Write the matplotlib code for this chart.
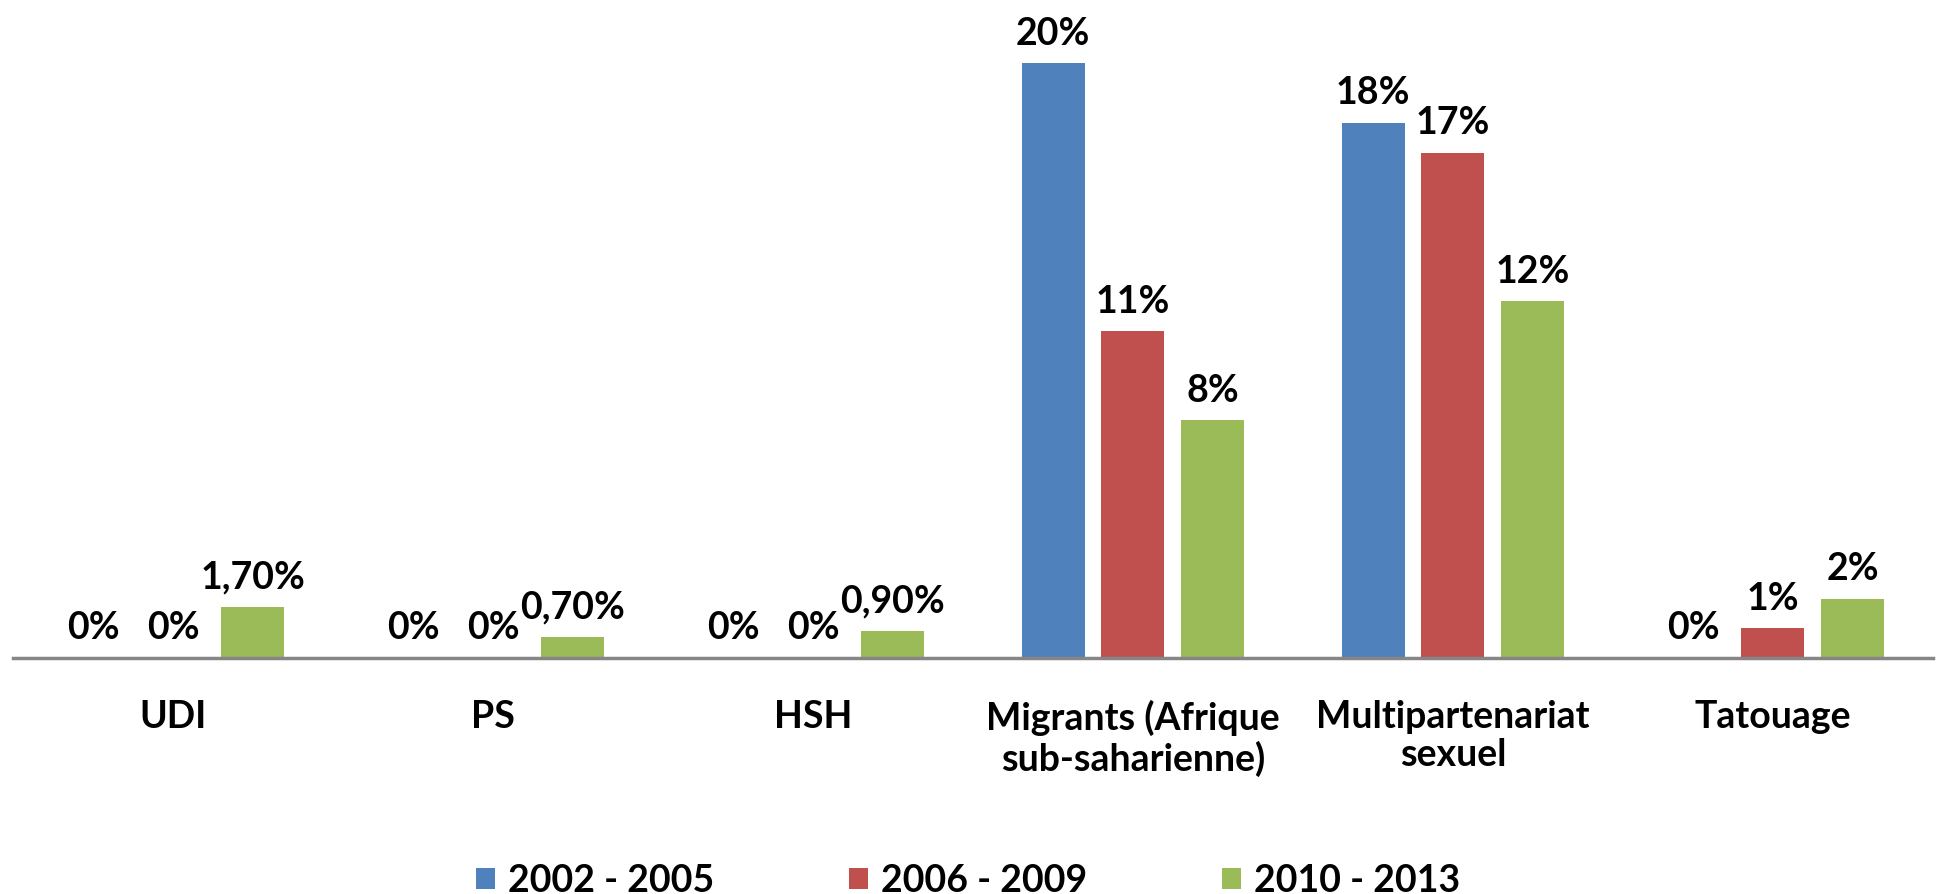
import matplotlib
matplotlib.use("Agg")
import matplotlib.pyplot as plt
import numpy as np

categories = ["UDI", "PS", "HSH", "Migrants (Afrique\nsub-saharienne)",
              "Multipartenariat\nsexuel", "Tatouage"]
series = ["2002 - 2005", "2006 - 2009", "2010 - 2013"]
values = [
    [0, 0, 0, 20, 18, 0],
    [0, 0, 0, 11, 17, 1],
    [1.7, 0.7, 0.9, 8, 12, 2],
]
labels = [
    ["0%", "0%", "0%", "20%", "18%", "0%"],
    ["0%", "0%", "0%", "11%", "17%", "1%"],
    ["1,70%", "0,70%", "0,90%", "8%", "12%", "2%"],
]
colors = ["#4F81BD", "#C0504D", "#9BBB59"]

plt.rcParams["font.family"] = ["Lato", "DejaVu Sans"]
plt.rcParams["font.weight"] = "bold"

fig = plt.figure(figsize=(19.36, 8.94), dpi=100)
ax = fig.add_axes([0.0067, 0.264, 0.9917, 0.7315])

x = np.arange(len(categories))
width = 0.197
step = 0.249

for i, (name, vals, labs, col) in enumerate(zip(series, values, labels, colors)):
    pos = x + (i - 1) * step
    ax.bar(pos, vals, width, color=col, label=name, zorder=2)
    for px, v, lab in zip(pos, vals, labs):
        ax.annotate(lab, (px, v), xytext=(0, 9), textcoords="offset points",
                    ha="center", va="bottom", fontsize=27, fontweight="bold")

ax.set_xlim(-0.5, len(categories) - 0.5)
ax.set_ylim(0, 22)
ax.axhline(0, color="#868686", linewidth=2.5, zorder=3, clip_on=False)

for s in ax.spines.values():
    s.set_visible(False)
ax.set_yticks([])
ax.set_xticks(x)
ax.set_xticklabels(categories, fontsize=27, fontweight="bold", linespacing=1.15)
ax.tick_params(axis="x", length=0, pad=30)

fig.legend(loc="center", bbox_to_anchor=(0.5, 0.015), ncol=3, frameon=False,
           handlelength=0.5, handleheight=0.5, columnspacing=3.6,
           handletextpad=0.35, prop={"weight": "bold", "size": 27})

fig.savefig("out.png", dpi=100)
